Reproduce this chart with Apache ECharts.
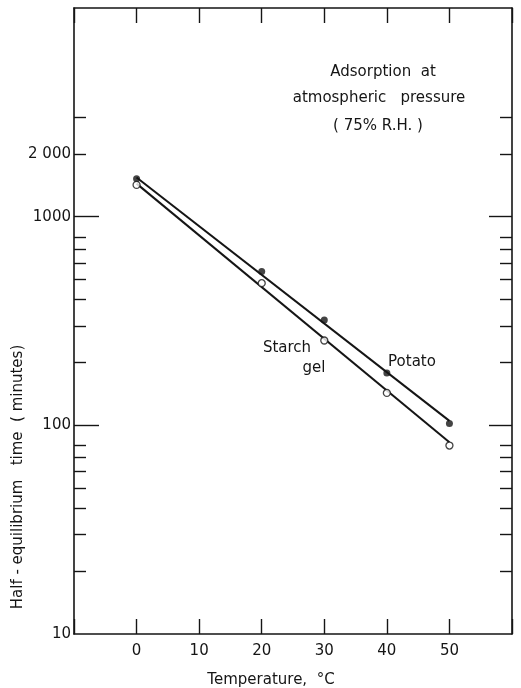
<!DOCTYPE html>
<html>
<head>
<meta charset="utf-8">
<script src="https://cdn.jsdelivr.net/npm/echarts@6/dist/echarts.min.js"></script>
<style>
html,body{margin:0;padding:0;background:#fff;}
#chart{width:521px;height:688px;}
</style>
</head>
<body>
<div id="chart"></div>
<script>
// ---- data ----
const temps = [0, 20, 30, 40, 50];
const potato = [1520, 546, 320, 178, 102];
const starchGel = [1420, 480, 255, 143, 80];
const fitTemps = [0, 50];
const potatoFit = [1540, 105];
const starchFit = [1440, 83];
const xTickLabels = [0, 10, 20, 30, 40, 50];
const yLabelValues = [10, 100, 1000, 2000];
const yMajorTicks = [100, 1000];
const yMinorTicks = [20, 30, 40, 50, 60, 70, 80, 200, 300, 400, 500, 600, 700, 800, 2000, 3000];

const INK = '#151515';
const FONT = 'DejaVu Sans';

const chart = echarts.init(document.getElementById('chart'), null, {renderer: 'canvas'});

function logAxis(pos, ticks, len, showLine, showLabels) {
  return {
    type: 'log', logBase: 10, min: 10, max: 10000, position: pos,
    axisLine: {show: showLine, onZero: false, lineStyle: {color: INK, width: 1.6}},
    axisTick: {show: true, inside: true, length: len, customValues: ticks, lineStyle: {color: INK, width: 1.4}},
    axisLabel: showLabels ? {
      show: true, customValues: yLabelValues, margin: 3, color: INK,
      fontFamily: FONT, fontSize: 15,
      formatter: v => (Math.abs(v - 2000) < 1 ? '2 000' : String(Math.round(v)))
    } : {show: false},
    splitLine: {show: false}
  };
}

const option = {
  backgroundColor: '#fff',
  animation: false,
  grid: {left: 74, right: 9, top: 8, bottom: 54},
  xAxis: [
    {
      type: 'value', min: -10, max: 60, interval: 10, position: 'bottom',
      axisLine: {show: true, onZero: false, lineStyle: {color: INK, width: 1.6}},
      axisTick: {show: true, inside: true, length: 15, lineStyle: {color: INK, width: 1.4}},
      axisLabel: {
        show: true, margin: 10, color: INK, fontFamily: FONT, fontSize: 15,
        formatter: v => (xTickLabels.indexOf(v) >= 0 ? String(v) : '')
      },
      splitLine: {show: false}
    },
    {
      type: 'value', min: -10, max: 60, interval: 10, position: 'top',
      axisLine: {show: true, onZero: false, lineStyle: {color: INK, width: 1.6}},
      axisTick: {show: true, inside: true, length: 15, lineStyle: {color: INK, width: 1.4}},
      axisLabel: {show: false},
      splitLine: {show: false}
    }
  ],
  yAxis: [
    logAxis('left', yMajorTicks, 25, true, true),
    logAxis('left', yMinorTicks, 12, false, false),
    logAxis('right', yMajorTicks, 23, true, false),
    logAxis('right', yMinorTicks, 12, false, false)
  ],
  series: [
    {
      name: 'Potato fit', type: 'line', xAxisIndex: 0, yAxisIndex: 0,
      data: fitTemps.map((t, i) => [t, potatoFit[i]]),
      showSymbol: false, lineStyle: {color: INK, width: 2}, z: 2
    },
    {
      name: 'Starch gel fit', type: 'line', xAxisIndex: 0, yAxisIndex: 0,
      data: fitTemps.map((t, i) => [t, starchFit[i]]),
      showSymbol: false, lineStyle: {color: INK, width: 2}, z: 2
    },
    {
      name: 'Potato', type: 'scatter', xAxisIndex: 0, yAxisIndex: 0,
      data: temps.map((t, i) => [t, potato[i]]),
      symbol: 'circle', symbolSize: 7,
      itemStyle: {color: INK}, z: 3
    },
    {
      name: 'Starch gel', type: 'scatter', xAxisIndex: 0, yAxisIndex: 0,
      data: temps.map((t, i) => [t, starchGel[i]]),
      symbol: 'circle', symbolSize: 7,
      itemStyle: {color: '#fff', borderColor: INK, borderWidth: 1.3}, z: 3
    }
  ],
  graphic: [
    {type: 'text', x: 383, y: 72, style: {text: 'Adsorption  at', fontFamily: FONT, fontSize: 15, fill: INK, textAlign: 'center', textVerticalAlign: 'middle'}},
    {type: 'text', x: 379, y: 98, style: {text: 'atmospheric   pressure', fontFamily: FONT, fontSize: 15, fill: INK, textAlign: 'center', textVerticalAlign: 'middle'}},
    {type: 'text', x: 378, y: 126, style: {text: '( 75% R.H. )', fontFamily: FONT, fontSize: 15, fill: INK, textAlign: 'center', textVerticalAlign: 'middle'}},
    {type: 'text', x: 287, y: 348, style: {text: 'Starch', fontFamily: FONT, fontSize: 15, fill: INK, textAlign: 'center', textVerticalAlign: 'middle'}},
    {type: 'text', x: 314, y: 368, style: {text: 'gel', fontFamily: FONT, fontSize: 15, fill: INK, textAlign: 'center', textVerticalAlign: 'middle'}},
    {type: 'text', x: 412, y: 362, style: {text: 'Potato', fontFamily: FONT, fontSize: 15, fill: INK, textAlign: 'center', textVerticalAlign: 'middle'}},
    {type: 'text', x: 271, y: 680, style: {text: 'Temperature,  °C', fontFamily: FONT, fontSize: 15, fill: INK, textAlign: 'center', textVerticalAlign: 'middle'}},
    {type: 'text', x: 18, y: 477, rotation: Math.PI / 2, style: {text: 'Half - equilibrium   time  ( minutes)', fontFamily: FONT, fontSize: 15, fill: INK, textAlign: 'center', textVerticalAlign: 'middle'}}
  ]
};
chart.setOption(option);
</script>
</body>
</html>
